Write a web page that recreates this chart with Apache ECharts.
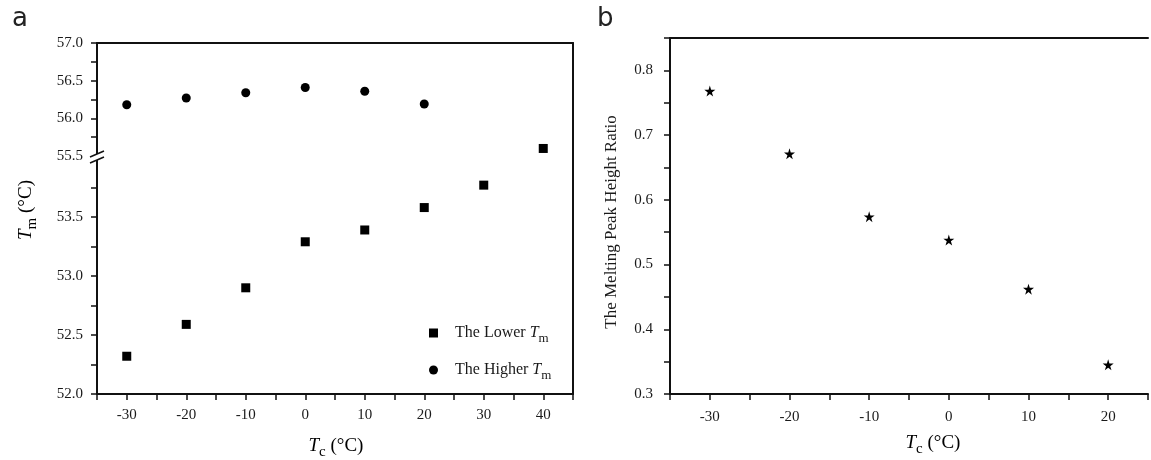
<!doctype html>
<html>
	<head>
		<meta charset="UTF-8">
		<title>Tm vs Tc</title>
		<style>
			html, body { margin: 0; padding: 0; background: #fff; }
			#chart { width: 1151px; height: 460px; }
		</style>
	</head>
	<body>
		<div id="chart"></div>
		<script src="https://cdn.jsdelivr.net/npm/echarts@6/dist/echarts.min.js"></script>
		<script type="text/javascript">
			// panel a
			var tcLower = [-30, -20, -10, 0, 10, 20, 30, 40];
			var lowerTm = [52.32, 52.59, 52.90, 53.29, 53.39, 53.58, 53.77, 55.60];
			var tcHigher = [-30, -20, -10, 0, 10, 20];
			var higherTm = [56.18, 56.27, 56.34, 56.41, 56.36, 56.19];
			// panel b
			var tcRatio = [-30, -20, -10, 0, 10, 20];
			var peakRatio = [0.768, 0.671, 0.574, 0.538, 0.462, 0.345];

			var serif = '"Liberation Serif", "DejaVu Serif", serif';
			var star = 'path://M50,0 L61,35 L98,35 L68,57 L79,91 L50,70 L21,91 L32,57 L2,35 L39,35 Z';

			// split the lower series over the broken axis
			var lowerLow = [], lowerHigh = [];
			for (var i = 0; i < tcLower.length; i++) {
				if (lowerTm[i] > 55) lowerHigh.push([tcLower[i], lowerTm[i]]);
				else lowerLow.push([tcLower[i], lowerTm[i]]);
			}
			var higherData = tcHigher.map(function(x, i) { return [x, higherTm[i]]; });
			var ratioData = tcRatio.map(function(x, i) { return [x, peakRatio[i]]; });

			var lineStyle = { color: '#111', width: 2 };
			var tickStyle = { show: true, length: 6, lineStyle: { color: '#111', width: 1.5 } };
			function labelStyle(margin, fmt) {
				return { fontFamily: serif, fontSize: 15, color: '#1a1a1a', margin: margin, formatter: fmt };
			}
			var subRich = {
				i: { fontFamily: serif, fontStyle: 'italic', fontSize: 19, color: '#1a1a1a' },
				s: { fontFamily: serif, fontSize: 15, color: '#1a1a1a', padding: [12, 0, 0, 0] },
				n: { fontFamily: serif, fontSize: 19, color: '#1a1a1a' }
			};
			var legendRich = {
				n: { fontFamily: serif, fontSize: 16, color: '#1a1a1a' },
				i: { fontFamily: serif, fontStyle: 'italic', fontSize: 16, color: '#1a1a1a' },
				s: { fontFamily: serif, fontSize: 13, color: '#1a1a1a', padding: [11, 0, 0, 0] }
			};

			function everyOther(step, digits) {
				return function(v) {
					var k = Math.round(v / step * 1000) / 1000;
					return Math.abs(k - Math.round(k)) < 1e-6 ? v.toFixed(digits) : '';
				};
			}

			function lineOnly(extra) {
				var o = {
					type: 'value',
					axisLine: { show: true, onZero: false, lineStyle: lineStyle },
					axisTick: { show: false },
					axisLabel: { show: false },
					splitLine: { show: false }
				};
				for (var k in extra) o[k] = extra[k];
				return o;
			}

			var option = {
				backgroundColor: '#fff',
				animation: false,
				grid: [
					{ left: 97, top: 43, width: 476, height: 113 },
					{ left: 97, top: 158, width: 476, height: 236 },
					{ left: 670, top: 38, right: -14, height: 356 }
				],
				xAxis: [
					lineOnly({ gridIndex: 0, position: 'top', min: -35, max: 45 }),
					{
						type: 'value', gridIndex: 1, min: -35, max: 45, interval: 5,
						axisLine: { show: true, onZero: false, lineStyle: lineStyle },
						axisTick: tickStyle,
						axisLabel: labelStyle(14, everyOther(10, 0)),
						splitLine: { show: false }
					},
					{
						type: 'value', gridIndex: 2, min: -35, max: 25, interval: 5,
						axisLine: { show: true, onZero: false, lineStyle: lineStyle },
						axisTick: tickStyle,
						axisLabel: labelStyle(16, everyOther(10, 0)),
						splitLine: { show: false }
					},
					lineOnly({ gridIndex: 2, position: 'top', min: -35, max: 25 })
				],
				yAxis: [
					{
						type: 'value', gridIndex: 0, min: 55.5, max: 57, interval: 0.25,
						axisLine: { show: true, onZero: false, lineStyle: lineStyle },
						axisTick: tickStyle,
						axisLabel: labelStyle(14, everyOther(0.5, 1)),
						splitLine: { show: false }
					},
					lineOnly({ gridIndex: 0, position: 'right', min: 55.5, max: 57 }),
					{
						type: 'value', gridIndex: 1, min: 52, max: 54, interval: 0.25,
						axisLine: { show: true, onZero: false, lineStyle: lineStyle },
						axisTick: tickStyle,
						axisLabel: labelStyle(14, function(v) {
							return v >= 54 ? '' : everyOther(0.5, 1)(v);
						}),
						splitLine: { show: false }
					},
					lineOnly({ gridIndex: 1, position: 'right', min: 52, max: 54 }),
					{
						type: 'value', gridIndex: 2, min: 0.3, max: 0.85, interval: 0.05,
						axisLine: { show: true, onZero: false, lineStyle: lineStyle },
						axisTick: tickStyle,
						axisLabel: labelStyle(17, function(v) {
							return v > 0.82 ? '' : everyOther(0.1, 1)(v);
						}),
						splitLine: { show: false }
					}
				],
				legend: {
					orient: 'vertical',
					left: 424, top: 320,
					itemWidth: 9, itemHeight: 9, itemGap: 17,
					data: [
						{ name: 'The Lower Tm', icon: 'rect' },
						{ name: 'The Higher Tm', icon: 'circle' }
					],
					formatter: function(name) {
						return '{n|' + name.replace(' Tm', '') + ' }{i|T}{s|m}';
					},
					textStyle: { rich: legendRich, padding: [0, 0, 0, 12] }
				},
				series: [
					{
						name: 'The Lower Tm', type: 'scatter', xAxisIndex: 1, yAxisIndex: 2,
						symbol: 'rect', symbolSize: 9, itemStyle: { color: '#000', opacity: 1 }, data: lowerLow
					},
					{
						name: 'The Lower Tm', type: 'scatter', xAxisIndex: 0, yAxisIndex: 0,
						symbol: 'rect', symbolSize: 9, itemStyle: { color: '#000', opacity: 1 }, data: lowerHigh
					},
					{
						name: 'The Higher Tm', type: 'scatter', xAxisIndex: 0, yAxisIndex: 0,
						symbol: 'circle', symbolSize: 9, itemStyle: { color: '#000', opacity: 1 }, data: higherData
					},
					{
						name: 'ratio', type: 'scatter', xAxisIndex: 2, yAxisIndex: 4,
						symbol: star, symbolSize: 11, itemStyle: { color: '#000', opacity: 1 }, data: ratioData
					}
				],
				graphic: [
					{ type: 'text', left: 12, top: 6, style: { text: 'a', font: '26px "DejaVu Sans", sans-serif', fill: '#222' } },
					{ type: 'text', left: 597, top: 6, style: { text: 'b', font: '26px "DejaVu Sans", sans-serif', fill: '#222' } },
					// close the right border across the break
					{ type: 'line', shape: { x1: 573, y1: 155, x2: 573, y2: 159 }, style: { stroke: '#111', lineWidth: 2 }, z: 99 },
					// axis break marks
					{ type: 'rect', shape: { x: 90, y: 154, width: 14, height: 6 }, style: { fill: '#fff' }, z: 100 },
					{ type: 'line', shape: { x1: 90, y1: 157, x2: 104, y2: 151 }, style: { stroke: '#111', lineWidth: 1.5 }, z: 101 },
					{ type: 'line', shape: { x1: 90, y1: 163, x2: 104, y2: 157 }, style: { stroke: '#111', lineWidth: 1.5 }, z: 101 },
					// axis titles
					{
						type: 'text', x: 26, y: 210, rotation: Math.PI / 2,
						style: { text: '{i|T}{s|m}{n| (°C)}', rich: subRich, align: 'center', verticalAlign: 'middle' }
					},
					{
						type: 'text', x: 336, y: 446,
						style: { text: '{i|T}{s|c}{n| (°C)}', rich: subRich, align: 'center', verticalAlign: 'middle' }
					},
					{
						type: 'text', x: 933, y: 443,
						style: { text: '{i|T}{s|c}{n| (°C)}', rich: subRich, align: 'center', verticalAlign: 'middle' }
					},
					{
						type: 'text', x: 612, y: 222, rotation: Math.PI / 2,
						style: { text: 'The Melting Peak Height Ratio', font: '17px ' + serif, fill: '#1a1a1a', align: 'center', verticalAlign: 'middle' }
					}
				]
			};

			var chart = echarts.init(document.getElementById('chart'));
			chart.setOption(option);
		</script>
	</body>
</html>
